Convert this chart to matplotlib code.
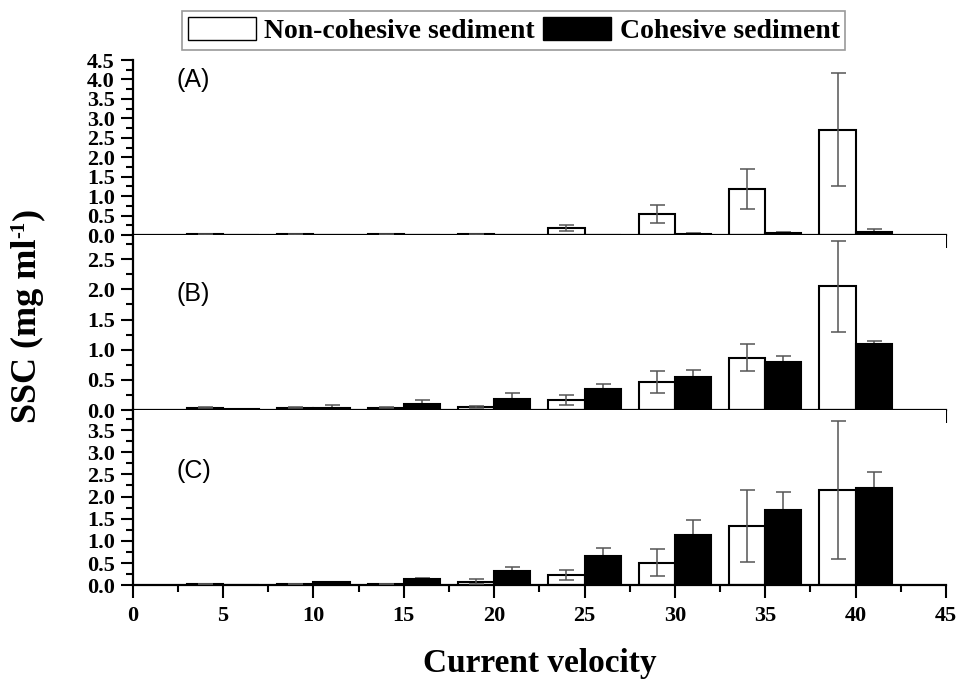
import numpy as np
import matplotlib
matplotlib.use('Agg')
import matplotlib.pyplot as plt
import matplotlib.patches as mpatches
from matplotlib.ticker import MultipleLocator

# current velocity groups
velocity = [5, 10, 15, 20, 25, 30, 35, 40]

# panel A
a_noncoh = [0.02, 0.02, 0.02, 0.02, 0.19, 0.54, 1.18, 2.71]
a_noncoh_err = [0.01, 0.01, 0.01, 0.01, 0.08, 0.23, 0.52, 1.45]
a_coh = [0.005, 0.005, 0.005, 0.01, 0.01, 0.04, 0.05, 0.09]
a_coh_err = [0.0, 0.0, 0.0, 0.0, 0.0, 0.01, 0.03, 0.07]

# panel B
b_noncoh = [0.04, 0.04, 0.04, 0.05, 0.17, 0.46, 0.87, 2.05]
b_noncoh_err = [0.01, 0.01, 0.01, 0.02, 0.08, 0.18, 0.22, 0.75]
b_coh = [0.02, 0.04, 0.10, 0.19, 0.35, 0.55, 0.79, 1.09]
b_coh_err = [0.0, 0.04, 0.07, 0.09, 0.08, 0.12, 0.11, 0.05]

# panel C
c_noncoh = [0.02, 0.02, 0.02, 0.08, 0.23, 0.51, 1.34, 2.14]
c_noncoh_err = [0.0, 0.0, 0.0, 0.05, 0.12, 0.30, 0.81, 1.56]
c_coh = [0.01, 0.07, 0.13, 0.32, 0.65, 1.14, 1.70, 2.19]
c_coh_err = [0.0, 0.0, 0.03, 0.08, 0.18, 0.32, 0.40, 0.36]

panels = [
    ('(A)', a_noncoh, a_noncoh_err, a_coh, a_coh_err, 4.5, 0.885),
    ('(B)', b_noncoh, b_noncoh_err, b_coh, b_coh_err, 2.9, 0.665),
    ('(C)', c_noncoh, c_noncoh_err, c_coh, c_coh_err, 3.95, 0.65),
]

serif = 'Liberation Serif'
x = np.array(velocity)
w = 2.0

fig = plt.figure(figsize=(9.57, 6.86), dpi=100)
gs = fig.add_gridspec(3, 1, left=0.1387, right=0.9885, top=0.9125, bottom=0.147, hspace=0)

axes = []
for i, (lab, wv, we, bv, be, ymax, ly) in enumerate(panels):
    ax = fig.add_subplot(gs[i])
    axes.append(ax)
    ax.bar(x - 1, wv, width=w, color='white', edgecolor='black', linewidth=1.5, zorder=2)
    ax.bar(x + 1, bv, width=w, color='black', edgecolor='black', linewidth=1.5, zorder=2)
    ax.errorbar(x - 1, wv, yerr=we, fmt='none', ecolor='#555555', elinewidth=1.1,
                capsize=5.4, capthick=1.1, zorder=3)
    ax.errorbar(x + 1, bv, yerr=be, fmt='none', ecolor='#555555', elinewidth=1.1,
                capsize=5.4, capthick=1.1, zorder=1)
    ax.set_xlim(0, 45)
    ax.spines['top'].set_visible(False)
    ax.spines['right'].set_visible(False)
    ax.spines['left'].set_linewidth(1.6)
    ax.spines['bottom'].set_linewidth(1.6)
    ax.xaxis.set_major_locator(MultipleLocator(5))
    ax.xaxis.set_minor_locator(MultipleLocator(2.5))
    ax.yaxis.set_minor_locator(MultipleLocator(0.25))
    ax.tick_params(which='major', direction='out', length=9, width=1.5)
    ax.tick_params(which='minor', direction='out', length=5, width=1.5)
    ax.tick_params(axis='y', pad=4)
    yt = np.arange(0, ymax + 0.01, 0.5)
    ax.set_yticks(yt)
    ax.set_yticklabels(['%.1f' % v for v in yt], fontfamily=serif, fontweight='bold', fontsize=16)
    ax.set_ylim(0, ymax)
    if i < 2:
        ax.tick_params(axis='x', labelbottom=False)
    else:
        for t in ax.get_xticklabels():
            t.set_fontfamily(serif)
            t.set_fontweight('bold')
            t.set_fontsize(16)
        ax.tick_params(axis='x', pad=6)
    ax.text(0.054, ly, lab, transform=ax.transAxes, fontsize=18,
            fontfamily='Liberation Sans', va='center', ha='left')

axes[2].set_xlabel('Current velocity', fontfamily=serif, fontweight='bold', fontsize=24, labelpad=16)

# y label built in pieces so the superscript uses a plain hyphen
lx, ly0 = 0.029, 0.383
t1 = fig.text(lx, ly0, 'SSC (mg ml', rotation=90, va='bottom', ha='center',
              fontfamily=serif, fontweight='bold', fontsize=26)
fig.canvas.draw()
r = fig.canvas.get_renderer()
bb = t1.get_window_extent(r).transformed(fig.transFigure.inverted())
t2 = fig.text(lx - 0.009, bb.y1 + 0.001, '-1', rotation=90, va='bottom', ha='center',
              fontfamily=serif, fontweight='bold', fontsize=15)
bb2 = t2.get_window_extent(r).transformed(fig.transFigure.inverted())
fig.text(lx, bb2.y1 + 0.001, ')', rotation=90, va='bottom', ha='center',
         fontfamily=serif, fontweight='bold', fontsize=26)

handles = [mpatches.Patch(facecolor='white', edgecolor='black', linewidth=1, label='Non-cohesive sediment'),
           mpatches.Patch(facecolor='black', edgecolor='black', label='Cohesive sediment')]
leg = fig.legend(handles=handles, loc='upper center', bbox_to_anchor=(0.537, 0.984), ncol=2,
                 prop={'family': serif, 'weight': 'bold', 'size': 20}, fancybox=False,
                 edgecolor='gray', handlelength=2.45, handleheight=0.95, handletextpad=0.3,
                 columnspacing=0.3, borderpad=0.2, borderaxespad=0)
leg.get_frame().set_linewidth(1.2)

plt.savefig('out.png', dpi=100)
